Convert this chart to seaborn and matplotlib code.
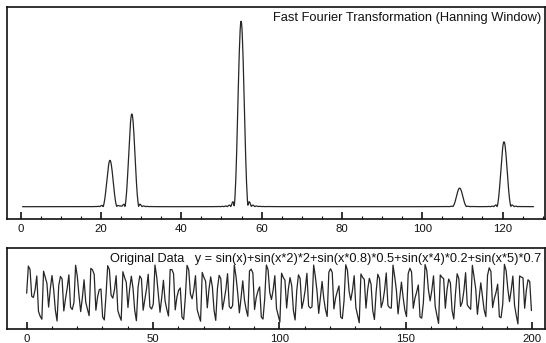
import numpy as np
import pandas as pd
import matplotlib
matplotlib.use("Agg")
import matplotlib.pyplot as plt
from matplotlib.ticker import MultipleLocator
import seaborn as sns

term_freqs = [1.0, 2.0, 0.8, 4.0, 5.0]
term_amps = [1.0, 2.0, 0.5, 0.2, 0.7]
n_samples = 300
sample_step = 0.668
pad_factor = 8
title_fft = "Fast Fourier Transformation (Hanning Window)"
title_data = "Original Data   y = sin(x)+sin(x*2)*2+sin(x*0.8)*0.5+sin(x*4)*0.2+sin(x*5)*0.7"
fft_ticks = [0, 20, 40, 60, 80, 100, 120]
data_ticks = [0, 50, 100, 150, 200]

idx = np.arange(n_samples)
xs = idx * sample_step
signal = np.zeros(n_samples)
for f, a in zip(term_freqs, term_amps):
    signal += np.sin(xs * f) * a

n_fft = n_samples * pad_factor
spec = np.abs(np.fft.rfft(signal * np.hanning(n_samples), n=n_fft)) / n_samples
freq = np.fft.rfftfreq(n_fft)          # cycles per sample
df_fft = pd.DataFrame({"k": freq * 256 + 0.45, "mag": spec})
df_fft = df_fft[df_fft["k"] <= 127.8]
df_sig = pd.DataFrame({"x": xs, "y": signal})

sns.set_theme(style="white")
plt.rcParams["font.family"] = ["Liberation Sans", "DejaVu Sans"]

W, H = 546, 343
fig = plt.figure(figsize=(W / 100, H / 100), dpi=100)

def frac(l, t, r, b):
    return [l / W, 1 - b / H, (r - l) / W, (b - t) / H]

ax1 = fig.add_axes(frac(6.7, 7.3, 545.5, 219.3))
ax2 = fig.add_axes(frac(6.7, 248.3, 545.5, 328.7))

line_kw = dict(color="#262626", linewidth=0.9)
sns.lineplot(data=df_fft, x="k", y="mag", ax=ax1, **line_kw)
sns.lineplot(data=df_sig, x="x", y="y", ax=ax2, **line_kw)

M = df_fft["mag"].max()
ax1.set_xlim(-3.5, 130.7)
ax1.set_ylim(-0.068 * M, 1.0755 * M)

dmin, dmax = df_sig["y"].min(), df_sig["y"].max()
r = dmax - dmin
ax2.set_xlim(-7.9, 205.3)
ax2.set_ylim(dmin - 0.08 * r, dmax + 0.27 * r)

for ax, ticks, minor in ((ax1, fft_ticks, 5), (ax2, data_ticks, 10)):
    ax.set_xticks(ticks)
    ax.set_xticklabels([str(t) for t in ticks])
    ax.xaxis.set_minor_locator(MultipleLocator(minor))
    ax.set_yticks([])
    ax.set_xlabel("")
    ax.set_ylabel("")
    ax.tick_params(axis="x", which="major", direction="in", length=5, width=1.2,
                   color="#111111", labelsize=8.2, pad=3.5, labelcolor="#111111",
                   bottom=True, top=False)
    ax.tick_params(axis="x", which="minor", direction="in", length=2.2, width=0.8,
                   color="#111111", bottom=True, top=False)
    for s in ax.spines.values():
        s.set_color("#111111")
        s.set_linewidth(1.2)
        s.set_visible(True)

ax1.text(0.9926, 0.9495, title_fft, transform=ax1.transAxes, ha="right", va="center",
         fontsize=9.3, color="#111111")
ax2.text(0.9926, 0.873, title_data, transform=ax2.transAxes, ha="right", va="center",
         fontsize=9.2, color="#111111")

fig.savefig("out.png", dpi=100)
